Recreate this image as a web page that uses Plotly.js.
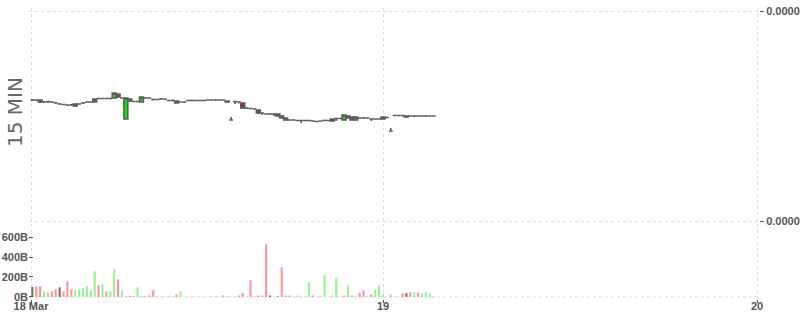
<!DOCTYPE html>
<html><head><meta charset="utf-8">
<script src="https://cdn.plot.ly/plotly-3.0.1.min.js"></script>
<style>html,body{margin:0;padding:0;background:#fff}#chart{width:800px;height:315px}</style>
</head><body><div id="chart"></div>
<script>
// 15-minute candles, starting 18 Mar 01:30
const firstCandleUTC = Date.UTC(2024, 2, 18, 1, 30);
const candleMinutes = 15;

const openP = [
2.21e-5,2.21e-5,2.21e-5,2.19e-5,2.195e-5,2.19e-5,2.18e-5,2.17e-5,2.165e-5,2.16e-5,
2.16e-5,2.15e-5,2.17e-5,2.18e-5,2.19e-5,2.19e-5,2.19e-5,2.225e-5,2.225e-5,2.225e-5,
2.225e-5,2.23e-5,2.27e-5,2.23e-5,2.02e-5,2.22e-5,2.195e-5,2.195e-5,2.19e-5,2.23e-5,
2.23e-5,2.215e-5,2.215e-5,2.22e-5,2.22e-5,2.205e-5,2.205e-5,2.20e-5,2.19e-5,2.19e-5,
2.205e-5,2.205e-5,2.205e-5,2.205e-5,2.205e-5,2.21e-5,2.21e-5,2.21e-5,2.21e-5,2.21e-5,
2.20e-5,2.01e-5,2.195e-5,2.19e-5,2.18e-5,2.13e-5,2.125e-5,2.12e-5,2.11e-5,2.08e-5,
2.07e-5,2.07e-5,2.07e-5,2.07e-5,2.05e-5,2.03e-5,2.01e-5,2.01e-5,2.005e-5,2.005e-5,
2.005e-5,2.005e-5,2.00e-5,1.995e-5,2.00e-5,2.005e-5,2.005e-5,2.00e-5,2.025e-5,2.025e-5,
2.01e-5,2.05e-5,2.04e-5,2.01e-5,2.03e-5,2.03e-5,2.03e-5,2.02e-5,2.02e-5,2.02e-5,
2.02e-5,2.035e-5,1.90e-5,2.055e-5,2.055e-5,2.055e-5,2.05e-5,2.05e-5,2.05e-5,2.05e-5,
2.05e-5,2.05e-5,2.05e-5,2.05e-5];

const highP = [
2.22e-5,2.21e-5,2.21e-5,2.20e-5,2.20e-5,2.195e-5,2.19e-5,2.18e-5,2.17e-5,2.165e-5,
2.17e-5,2.17e-5,2.175e-5,2.19e-5,2.195e-5,2.195e-5,2.22e-5,2.23e-5,2.225e-5,2.225e-5,
2.23e-5,2.28e-5,2.27e-5,2.235e-5,2.23e-5,2.22e-5,2.195e-5,2.195e-5,2.24e-5,2.23e-5,
2.23e-5,2.215e-5,2.215e-5,2.23e-5,2.22e-5,2.205e-5,2.215e-5,2.20e-5,2.19e-5,2.19e-5,
2.205e-5,2.215e-5,2.205e-5,2.205e-5,2.205e-5,2.21e-5,2.21e-5,2.21e-5,2.21e-5,2.21e-5,
2.20e-5,2.04e-5,2.195e-5,2.19e-5,2.185e-5,2.13e-5,2.125e-5,2.12e-5,2.11e-5,2.08e-5,
2.07e-5,2.08e-5,2.07e-5,2.07e-5,2.05e-5,2.03e-5,2.01e-5,2.01e-5,2.005e-5,2.005e-5,
2.005e-5,2.005e-5,2.00e-5,1.995e-5,2.00e-5,2.015e-5,2.005e-5,2.02e-5,2.025e-5,2.025e-5,
2.06e-5,2.05e-5,2.04e-5,2.04e-5,2.03e-5,2.04e-5,2.03e-5,2.02e-5,2.02e-5,2.02e-5,
2.04e-5,2.035e-5,1.93e-5,2.055e-5,2.055e-5,2.055e-5,2.05e-5,2.05e-5,2.05e-5,2.05e-5,
2.05e-5,2.06e-5,2.05e-5,2.05e-5];

const lowP = [
2.20e-5,2.20e-5,2.18e-5,2.19e-5,2.18e-5,2.18e-5,2.18e-5,2.17e-5,2.16e-5,2.15e-5,
2.15e-5,2.15e-5,2.17e-5,2.175e-5,2.19e-5,2.185e-5,2.19e-5,2.22e-5,2.225e-5,2.225e-5,
2.225e-5,2.23e-5,2.23e-5,2.225e-5,2.02e-5,2.20e-5,2.195e-5,2.19e-5,2.19e-5,2.23e-5,
2.225e-5,2.205e-5,2.215e-5,2.22e-5,2.22e-5,2.205e-5,2.205e-5,2.175e-5,2.19e-5,2.18e-5,
2.205e-5,2.205e-5,2.205e-5,2.205e-5,2.205e-5,2.21e-5,2.21e-5,2.20e-5,2.21e-5,2.21e-5,
2.19e-5,2.01e-5,2.17e-5,2.175e-5,2.13e-5,2.12e-5,2.125e-5,2.12e-5,2.07e-5,2.06e-5,
2.07e-5,2.07e-5,2.05e-5,2.05e-5,2.03e-5,2.01e-5,2.01e-5,2.01e-5,2.005e-5,1.98e-5,
2.005e-5,2.005e-5,2.00e-5,1.995e-5,2.00e-5,2.005e-5,2.005e-5,2.00e-5,2.00e-5,2.025e-5,
2.01e-5,2.03e-5,2.01e-5,2.01e-5,2.03e-5,2.03e-5,2.03e-5,2.00e-5,2.02e-5,2.02e-5,
2.02e-5,2.035e-5,1.90e-5,2.055e-5,2.055e-5,2.045e-5,2.04e-5,2.05e-5,2.04e-5,2.05e-5,
2.05e-5,2.05e-5,2.05e-5,2.05e-5];

const closeP = [
2.21e-5,2.21e-5,2.19e-5,2.19e-5,2.195e-5,2.19e-5,2.18e-5,2.17e-5,2.165e-5,2.16e-5,
2.16e-5,2.17e-5,2.17e-5,2.18e-5,2.19e-5,2.19e-5,2.22e-5,2.225e-5,2.225e-5,2.225e-5,
2.225e-5,2.28e-5,2.24e-5,2.23e-5,2.23e-5,2.20e-5,2.195e-5,2.195e-5,2.24e-5,2.23e-5,
2.23e-5,2.215e-5,2.215e-5,2.22e-5,2.22e-5,2.205e-5,2.205e-5,2.18e-5,2.19e-5,2.19e-5,
2.205e-5,2.205e-5,2.205e-5,2.205e-5,2.205e-5,2.21e-5,2.21e-5,2.21e-5,2.21e-5,2.21e-5,
2.19e-5,2.01e-5,2.195e-5,2.19e-5,2.13e-5,2.13e-5,2.125e-5,2.12e-5,2.08e-5,2.08e-5,
2.07e-5,2.07e-5,2.07e-5,2.05e-5,2.03e-5,2.01e-5,2.01e-5,2.01e-5,2.005e-5,2.005e-5,
2.005e-5,2.005e-5,2.00e-5,1.995e-5,2.00e-5,2.005e-5,2.005e-5,2.02e-5,2.025e-5,2.025e-5,
2.06e-5,2.03e-5,2.01e-5,2.04e-5,2.03e-5,2.03e-5,2.03e-5,2.02e-5,2.02e-5,2.02e-5,
2.04e-5,2.035e-5,1.90e-5,2.055e-5,2.055e-5,2.055e-5,2.04e-5,2.05e-5,2.05e-5,2.05e-5,
2.05e-5,2.05e-5,2.05e-5,2.05e-5];

const volume = [
100e9,107e9,107e9,57e9,47e9,57e9,77e9,97e9,57e9,157e9,
77e9,67e9,77e9,87e9,107e9,67e9,257e9,117e9,127e9,57e9,
57e9,277e9,177e9,67e9,7e9,13e9,7e9,97e9,13e9,7e9,
17e9,67e9,5e9,5e9,4e9,5e9,4e9,27e9,57e9,4e9,
3e9,4e9,3e9,4e9,3e9,3e9,4e9,5e9,3e9,17e9,
3e9,5e9,5e9,15e9,40e9,3e9,167e9,5e9,15e9,15e9,
527e9,15e9,3e9,7e9,297e9,15e9,15e9,3e9,15e9,3e9,
3e9,150e9,15e9,3e9,15e9,217e9,3e9,15e9,190e9,3e9,
15e9,117e9,15e9,7e9,40e9,67e9,3e9,27e9,77e9,117e9,
27e9,3e9,27e9,3e9,3e9,37e9,40e9,47e9,47e9,47e9,
37e9,47e9,37e9,5e9];

// u = up, d = down, n = unchanged
const volumeDir = [
'n','d','d','u','u','d','d','n','d','d',
'd','u','u','u','u','u','u','d','u','d',
'u','u','d','u','d','d','d','u','u','d',
'd','d','u','u','u','d','d','d','u','u',
'u','d','d','u','u','d','d','d','d','d',
'n','u','u','d','d','u','d','d','d','d',
'd','n','u','n','d','d','d','d','u','u',
'd','u','d','u','u','u','u','u','u','u',
'd','u','d','u','d','d','u','d','u','u',
'u','u','u','d','d','d','n','d','u','d',
'u','u','u','d'];

const xTickVals = ['2024-03-18 01:24:42', '2024-03-19 00:00', '2024-03-20 00:00'];
const xTickText = ['18 Mar', '19', '20'];
const priceTickVals = [1.0e-5, 3.1e-5];
const volTickVals = [0, 200e9, 400e9, 600e9];
const volTickText = ['0B', '200B', '400B', '600B'];

function pad(n) { return n < 10 ? '0' + n : '' + n; }
const times = [];
for (let i = 0; i < openP.length; i++) {
  const d = new Date(firstCandleUTC + i * candleMinutes * 60000);
  times.push(d.getUTCFullYear() + '-' + pad(d.getUTCMonth() + 1) + '-' + pad(d.getUTCDate()) +
    ' ' + pad(d.getUTCHours()) + ':' + pad(d.getUTCMinutes()));
}

const dirColor = { u: '#99f099', d: '#ff9696', n: '#777777' };
const volColors = volumeDir.map(d => dirColor[d]);

const tickFont = { family: 'Liberation Sans', size: 11, color: '#555555', weight: 'bold' };

const traces = [
  {
    type: 'candlestick', x: times, open: openP, high: highP, low: lowP, close: closeP,
    xaxis: 'x', yaxis: 'y',
    increasing: { fillcolor: '#00f000', line: { color: '#5c5c5c', width: 1.6 } },
    decreasing: { fillcolor: '#ff0000', line: { color: '#5c5c5c', width: 1.6 } },
    hoverinfo: 'skip'
  },
  {
    type: 'bar', x: times, y: volume, xaxis: 'x', yaxis: 'y2',
    marker: { color: volColors, line: { width: 0 } },
    hoverinfo: 'skip'
  }
];

const layout = {
  width: 800, height: 315,
  margin: { l: 29, r: 41, t: 8, b: 16 },
  paper_bgcolor: '#ffffff', plot_bgcolor: '#ffffff',
  showlegend: false,
  boxgap: 0, boxgroupgap: 0,
  bargap: 0.45,
  font: { family: 'Liberation Sans', color: '#555555' },
  xaxis: {
    type: 'date', anchor: 'y2',
    range: ['2024-03-18 01:17:00', '2024-03-20 00:07:42'],
    rangeslider: { visible: false },
    tickmode: 'array', tickvals: xTickVals, ticktext: xTickText,
    ticks: 'outside', ticklen: 3, tickcolor: '#555555',
    ticklabelstandoff: -6,
    showgrid: true, gridcolor: '#dddddd', griddash: 'dot', gridwidth: 1,
    zeroline: false, showline: false, tickfont: tickFont
  },
  yaxis: {
    domain: [0.2577, 1], anchor: 'x', side: 'right',
    range: [0.97e-5, 3.13e-5],
    tickmode: 'array', tickvals: priceTickVals, tickformat: '.7f',
    ticks: 'outside', ticklen: 4, tickcolor: '#555555',
    showgrid: true, gridcolor: '#dddddd', griddash: 'dot', gridwidth: 1,
    zeroline: false, showline: false, tickfont: tickFont
  },
  yaxis2: {
    domain: [0, 0.2577], anchor: 'x', side: 'left',
    range: [-20e9, 730e9],
    tickmode: 'array', tickvals: volTickVals, ticktext: volTickText,
    ticks: 'inside', ticklen: 4, tickcolor: '#555555',
    showgrid: false, zeroline: false, showline: false, tickfont: tickFont
  },
  shapes: [{
    type: 'line', xref: 'paper', yref: 'y2', x0: 0, x1: 1, y0: 0, y1: 0,
    line: { color: '#dddddd', width: 1, dash: 'dot' }, layer: 'below'
  }],
  annotations: [{
    text: '15 MIN', xref: 'paper', yref: 'paper', x: -0.019, y: 0.643,
    textangle: -90, showarrow: false, xanchor: 'center', yanchor: 'middle',
    font: { family: 'DejaVu Sans', size: 20, color: '#666666' }
  }]
};

Plotly.newPlot('chart', traces, layout, { staticPlot: true, displayModeBar: false });
</script>
</body></html>
